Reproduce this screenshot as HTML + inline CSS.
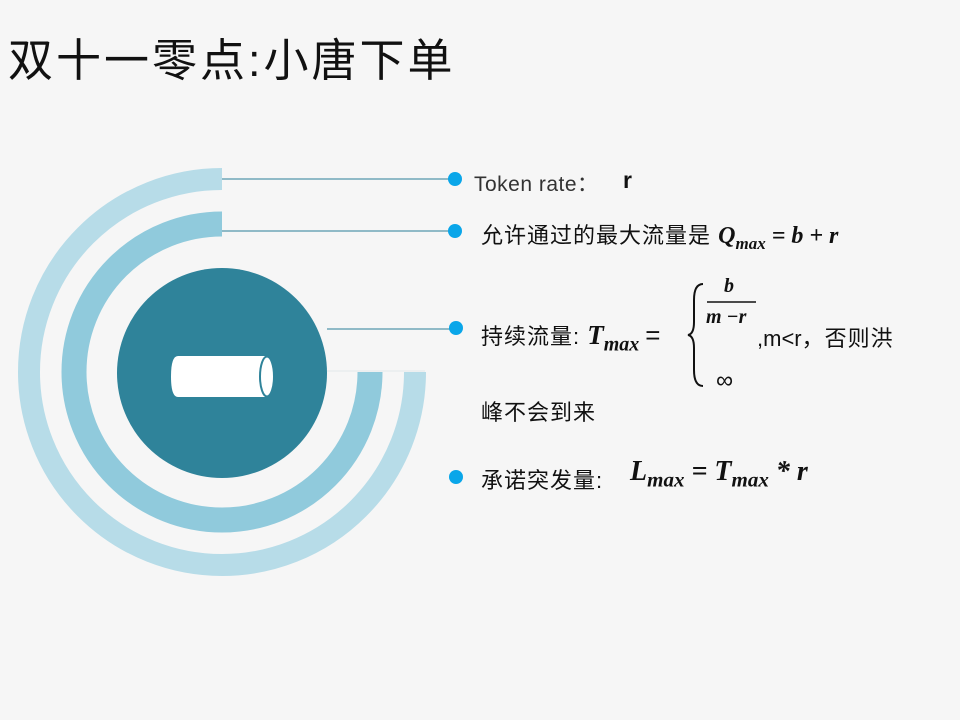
<!DOCTYPE html>
<html><head><meta charset="utf-8"><style>
html,body{margin:0;padding:0;background:#f6f6f6;}
body{width:960px;height:720px;position:relative;overflow:hidden;font-family:"Liberation Sans","Noto Sans CJK SC",sans-serif;color:#111;}
.t{position:absolute;white-space:nowrap;}
.c{font-size:22px;letter-spacing:1px;}
.m{font-family:"Liberation Serif","DejaVu Serif",serif;font-style:italic;font-weight:bold;letter-spacing:0;}
</style></head><body>
<div class="t" style="left:8px;top:24px;font-size:45px;letter-spacing:3px;">双十一零点:小唐下单</div>
<svg width="960" height="720" style="position:absolute;left:0;top:0">
  <path d="M222,179 A193,193 0 1 0 415,372" fill="none" stroke="#b7dce8" stroke-width="22"/>
  <path d="M222,224 A148,148 0 1 0 370,372" fill="none" stroke="#90cadc" stroke-width="25"/>
  <circle cx="222" cy="373" r="105" fill="#2f839a"/>
  <line x1="327" y1="371" x2="425" y2="371" stroke="#e2e8ea" stroke-width="1"/>
  <line x1="222" y1="179" x2="455" y2="179" stroke="#6fa6b7" stroke-width="1.5"/>
  <line x1="222" y1="231" x2="455" y2="231" stroke="#6fa6b7" stroke-width="1.5"/>
  <line x1="327" y1="329" x2="455" y2="329" stroke="#6fa6b7" stroke-width="1.5"/>
  <circle cx="455" cy="179" r="7" fill="#0aa6e9"/>
  <circle cx="455" cy="231" r="7" fill="#0aa6e9"/>
  <circle cx="456" cy="328" r="7" fill="#0aa6e9"/>
  <circle cx="456" cy="477" r="7" fill="#0aa6e9"/>
  <path d="M178,356 L266,356 L266,397 L178,397 Q171,397 171,376.5 Q171,356 178,356 Z" fill="#fff"/>
  <ellipse cx="267" cy="376.5" rx="7" ry="20" fill="#fff" stroke="#2f839a" stroke-width="2"/>
  <path d="M703,284 Q694,284 694,300 L694,322 Q694,334 688,335 Q694,336 694,348 L694,370 Q694,386 703,386" fill="none" stroke="#111" stroke-width="2"/>
  <line x1="707" y1="302" x2="756" y2="302" stroke="#111" stroke-width="1.5"/>
</svg>
<div class="t" style="left:474px;top:168px;font-size:21px;color:#333;letter-spacing:0.5px;">Token rate：</div>
<div class="t" style="left:623px;top:167px;font-size:23px;font-weight:bold;">r</div>
<div class="t c" style="left:481px;top:218px;">允许通过的最大流量是 <span class="m" style="font-size:24px">Q<sub style="font-size:17px">max</sub> = b + r</span></div>
<div class="t c" style="left:481px;top:319px;">持续流量: <span class="m" style="font-size:27px">T<sub style="font-size:20px">max</sub></span><span style="font-size:26px;margin-left:6px">=</span></div>
<div class="t m" style="left:724px;top:275px;font-size:20px;">b</div>
<div class="t m" style="left:706px;top:306px;font-size:20px;">m −r</div>
<div class="t" style="left:757px;top:321px;font-size:22px;">,m&lt;r<span style="font-size:22px;letter-spacing:1px">，否则洪</span></div>
<div class="t" style="left:716px;top:367px;font-size:24px;">∞</div>
<div class="t c" style="left:481px;top:395px;">峰不会到来</div>
<div class="t c" style="left:481px;top:463px;">承诺突发量:</div>
<div class="t m" style="left:630px;top:456px;font-size:28px;">L<sub style="font-size:21px">max</sub> = T<sub style="font-size:21px">max</sub> * r</div>
</body></html>
